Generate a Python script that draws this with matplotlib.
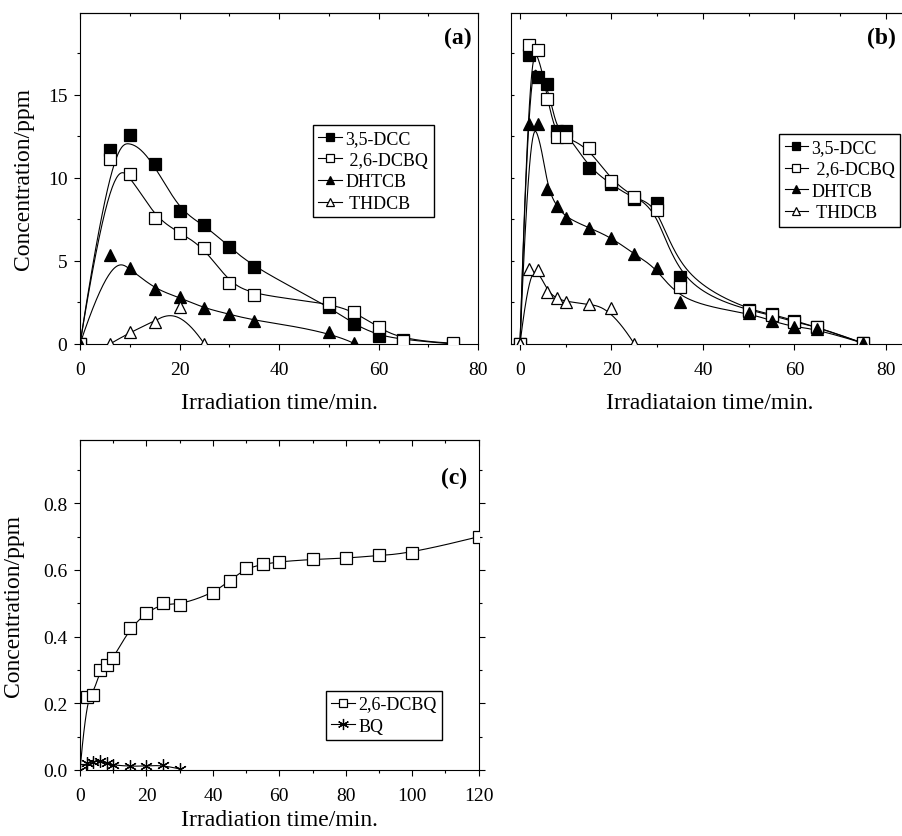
import numpy as np
import matplotlib
matplotlib.use("Agg")
import matplotlib.pyplot as plt
from matplotlib.ticker import MultipleLocator, FormatStrFormatter
from matplotlib.lines import Line2D

plt.rcParams['font.family'] = ['Liberation Serif', 'DejaVu Serif']
plt.rcParams['axes.linewidth'] = 0.8

# panel (a)
t_a = [0, 6, 10, 15, 20, 25, 30, 35, 50, 55, 60, 65, 75]
dcc_a = [0, 11.65, 12.55, 10.8, 8.0, 7.15, 5.85, 4.6, 2.25, 1.2, 0.5, 0.25, 0.0]
dcbq_a = [0, 11.1, 10.25, 7.6, 6.7, 5.8, 3.65, 2.95, 2.45, 1.95, 1.0, 0.2, 0.05]
t_a_dh = [0, 6, 10, 15, 20, 25, 30, 35, 50, 55]
dhtcb_a = [0, 5.35, 4.55, 3.3, 2.8, 2.15, 1.8, 1.4, 0.75, 0.05]
t_a_th = [6, 10, 15, 20, 25]
thdcb_a = [0, 0.7, 1.35, 2.2, 0]

# panel (b)
t_b = [0, 2, 4, 6, 8, 10, 15, 20, 25, 30, 35, 50, 55, 60, 65, 75]
dcc_b = [0, 17.4, 16.05, 15.65, 12.8, 12.8, 10.6, 9.6, 8.7, 8.5, 4.0, 2.05, 1.8, 1.4, 1.0, 0.05]
dcbq_b = [0, 17.95, 17.65, 14.7, 12.45, 12.45, 11.8, 9.8, 8.85, 8.05, 3.45, 2.0, 1.75, 1.3, 1.05, 0.05]
dhtcb_b = [0, 13.25, 13.2, 9.3, 8.3, 7.6, 7.0, 6.4, 5.4, 4.55, 2.5, 1.85, 1.4, 1.0, 0.9, 0.05]
t_b_th = [0, 2, 4, 6, 8, 10, 15, 20, 25]
thdcb_b = [0, 4.5, 4.45, 3.15, 2.75, 2.55, 2.4, 2.15, 0]

# panel (c)
t_c = [0, 2, 4, 6, 8, 10, 15, 20, 25, 30, 40, 45, 50, 55, 60, 70, 80, 90, 100, 120]
dcbq_c = [0, 0.22, 0.225, 0.3, 0.315, 0.335, 0.425, 0.472, 0.5, 0.495, 0.53, 0.568,
          0.605, 0.617, 0.625, 0.632, 0.635, 0.644, 0.65, 0.70]
t_c_bq = [0, 2, 4, 6, 8, 10, 15, 20, 25, 30]
bq_c = [0, 0.02, 0.025, 0.027, 0.02, 0.015, 0.011, 0.012, 0.015, 0.003]


def bspline(x, y, n=400, k=3):
    # clamped uniform B-spline with the data points as control points
    P = np.column_stack([x, y]).astype(float)
    m = len(P)
    k = min(k, m - 1)
    knots = np.concatenate([np.zeros(k), np.linspace(0, 1, m - k + 1), np.ones(k)])
    t = np.linspace(0, 1 - 1e-9, n)
    B = np.array([(knots[i] <= t) & (t < knots[i + 1]) for i in range(len(knots) - 1)], float).T
    for d in range(1, k + 1):
        nb = B.shape[1] - 1
        newB = np.zeros((len(t), nb))
        for i in range(nb):
            a = knots[i + d] - knots[i]
            b = knots[i + d + 1] - knots[i + 1]
            if a > 0:
                newB[:, i] += (t - knots[i]) / a * B[:, i]
            if b > 0:
                newB[:, i] += (knots[i + d + 1] - t) / b * B[:, i + 1]
        B = newB
    C = B @ P
    return C[:, 0], C[:, 1]


styles = {
    'dcc': dict(marker='s', mfc='black', mec='black'),
    'dcbq': dict(marker='s', mfc='white', mec='black'),
    'dhtcb': dict(marker='^', mfc='black', mec='black'),
    'thdcb': dict(marker='^', mfc='white', mec='black'),
    'bq': dict(marker=(6, 2, 0), mfc='black', mec='black'),
}


def draw(ax, x, y, key, ms=8):
    sx, sy = bspline(x, y)
    ax.plot(sx, sy, color='black', lw=0.8, zorder=2)
    ax.plot(x, y, ls='none', ms=ms, mew=0.9, zorder=3, **styles[key])


def handle(key, ms=6):
    return Line2D([], [], color='black', lw=0.8, ms=ms, mew=0.9, **styles[key])


def frame(ax, xmaj, xmin, ymaj, ymin, right=False, xpad=8):
    ax.xaxis.set_major_locator(MultipleLocator(xmaj))
    ax.xaxis.set_minor_locator(MultipleLocator(xmin))
    ax.yaxis.set_major_locator(MultipleLocator(ymaj))
    ax.yaxis.set_minor_locator(MultipleLocator(ymin))
    ax.tick_params(which='major', direction='out', length=4, width=0.8, labelsize=14)
    ax.tick_params(which='minor', direction='out', length=2.5, width=0.8)
    ax.tick_params(axis='x', which='major', pad=xpad)
    ax.tick_params(axis='y', which='major', pad=5)
    ax.tick_params(axis='y', which='both', right=right)
    sec = ax.secondary_xaxis('top')
    sec.xaxis.set_major_locator(MultipleLocator(xmaj))
    sec.xaxis.set_minor_locator(MultipleLocator(xmin))
    sec.tick_params(which='major', direction='in', length=4, width=0.8, labeltop=False)
    sec.tick_params(which='minor', direction='in', length=2.5, width=0.8)
    sec.spines['top'].set_linewidth(0.8)


fig = plt.figure(figsize=(9.03, 8.37), dpi=100)
W, H = 903, 837


def add_axes(left, top, width, height):
    return fig.add_axes([left / W, 1 - (top + height) / H, width / W, height / H])


legend_kw = dict(frameon=True, fancybox=False, framealpha=1, edgecolor='black',
                 handlelength=1.3, handletextpad=0.2, borderpad=0.3, labelspacing=0.25,
                 borderaxespad=0)

# (a)
ax1 = add_axes(80, 14, 398, 331)
draw(ax1, t_a, dcc_a, 'dcc')
draw(ax1, t_a, dcbq_a, 'dcbq')
draw(ax1, t_a_dh, dhtcb_a, 'dhtcb')
draw(ax1, t_a_th, thdcb_a, 'thdcb')
ax1.set_xlim(0, 80)
ax1.set_ylim(0, 19.9)
frame(ax1, 20, 10, 5, 2.5)
ax1.set_ylabel('Concentration/ppm', fontsize=17, labelpad=10)
ax1.set_xlabel('Irradiation time/min.', fontsize=17, labelpad=10)
ax1.text(0.985, 0.925, '(a)', transform=ax1.transAxes, ha='right', va='center',
         fontsize=17, fontweight='bold')
ax1.legend([handle('dcc'), handle('dcbq'), handle('dhtcb'), handle('thdcb')],
           ['3,5-DCC', ' 2,6-DCBQ', 'DHTCB', ' THDCB'], loc='upper left',
           bbox_to_anchor=(0.585, 0.662), fontsize=13, **legend_kw)

# (b)
ax2 = add_axes(510.85, 14, 398, 331)
draw(ax2, t_b, dcc_b, 'dcc')
draw(ax2, t_b, dcbq_b, 'dcbq')
draw(ax2, t_b, dhtcb_b, 'dhtcb')
draw(ax2, t_b_th, thdcb_b, 'thdcb')
ax2.set_xlim(-2, 85)
ax2.set_ylim(0, 19.9)
frame(ax2, 20, 10, 2.5, 2.5)
ax2.tick_params(axis='y', which='both', direction='in', length=2, labelleft=False)
ax2.set_xlabel('Irradiataion time/min.', fontsize=17, labelpad=10)
ax2.text(0.967, 0.925, '(b)', transform=ax2.transAxes, ha='right', va='center',
         fontsize=17, fontweight='bold')
ax2.legend([handle('dcc'), handle('dcbq'), handle('dhtcb'), handle('thdcb')],
           ['3,5-DCC', ' 2,6-DCBQ', 'DHTCB', ' THDCB'], loc='upper left',
           bbox_to_anchor=(0.674, 0.634), fontsize=13, **legend_kw)

# (c)
ax3 = add_axes(80, 441, 398.7, 330)
draw(ax3, t_c, dcbq_c, 'dcbq')
draw(ax3, t_c_bq, bq_c, 'bq', ms=9)
ax3.set_xlim(0, 120)
ax3.set_ylim(0, 0.99)
frame(ax3, 20, 10, 0.2, 0.1, right=True, xpad=8)
ax3.yaxis.set_major_formatter(FormatStrFormatter('%.1f'))
ax3.set_ylabel('Concentration/ppm', fontsize=17, labelpad=14)
ax3.set_xlabel('Irradiation time/min.', fontsize=17, labelpad=4)
ax3.text(0.97, 0.885, '(c)', transform=ax3.transAxes, ha='right', va='center',
         fontsize=17, fontweight='bold')
ax3.legend([handle('dcbq'), handle('bq', ms=8)], ['2,6-DCBQ', 'BQ'], loc='upper left',
           bbox_to_anchor=(0.617, 0.240), fontsize=13, **legend_kw)

fig.savefig('out.png', dpi=100)
